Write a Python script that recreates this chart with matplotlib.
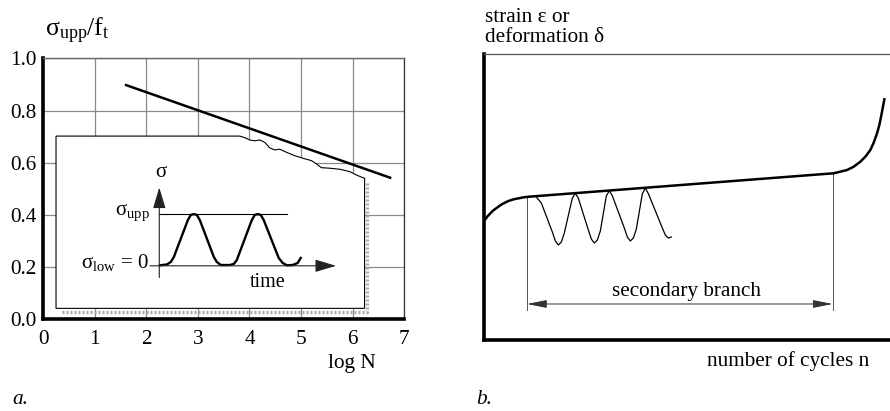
import matplotlib
matplotlib.use('Agg')
import matplotlib.pyplot as plt
from matplotlib.patches import Polygon

plt.rcParams['font.family'] = ['Liberation Serif', 'DejaVu Serif']
plt.rcParams['mathtext.fontset'] = 'custom'
plt.rcParams['mathtext.rm'] = 'Liberation Serif'
plt.rcParams['mathtext.it'] = 'Liberation Serif:italic'
plt.rcParams['mathtext.bf'] = 'Liberation Serif:bold'
plt.rcParams['mathtext.default'] = 'rm'

# ---------------- data: panel a ----------------
x_ticks = [0, 1, 2, 3, 4, 5, 6, 7]
x_tick_labels = ['0', '1', '2', '3', '4', '5', '6', '7']
y_ticks = [0.0, 0.2, 0.4, 0.6, 0.8, 1.0]
y_tick_labels = ['0.0', '0.2', '0.4', '0.6', '0.8', '1.0']

fatigue_logN = [1.583, 6.752]
fatigue_ratio = [0.899, 0.541]

# inset card outline (torn top edge)
inset_x = [0.246, 0.246, 3.812, 3.909, 4.006, 4.103, 4.200, 4.297, 4.393, 4.490,
           4.587, 4.717, 4.878, 5.039, 5.202, 5.310, 5.395, 5.556, 5.750, 5.944,
           6.074, 6.234, 6.234]
inset_y = [0.042, 0.702, 0.702, 0.696, 0.687, 0.684, 0.687, 0.678, 0.657, 0.649,
           0.652, 0.640, 0.627, 0.617, 0.608, 0.594, 0.581, 0.579, 0.575, 0.566,
           0.553, 0.540, 0.042]
shadow_x = [6.279, 6.279, 0.357]
shadow_y = [0.521, 0.027, 0.027]

# load history sketch in the inset
wave_x = [2.262, 2.397, 2.475, 2.533, 2.804, 2.862, 2.921, 2.979, 3.037, 3.308,
          3.366, 3.444, 3.618, 3.696, 3.754, 4.045, 4.103, 4.161, 4.219, 4.277,
          4.568, 4.645, 4.723, 4.839, 4.936, 4.994]
wave_y = [0.207, 0.210, 0.220, 0.239, 0.380, 0.400, 0.403, 0.400, 0.380, 0.239,
          0.220, 0.208, 0.208, 0.212, 0.227, 0.380, 0.400, 0.403, 0.400, 0.380,
          0.235, 0.216, 0.207, 0.208, 0.216, 0.235]
sig_axis_x = [2.25, 2.25]
sig_axis_y = [0.16, 0.505]
time_axis_x = [2.07, 5.68]
time_axis_y = [0.205, 0.205]
upp_line_x = [2.25, 4.72]
upp_line_y = [0.405, 0.405]

# ---------------- data: panel b ----------------
creep_x = [0.25, 0.74, 1.48, 2.22, 3.13, 3.94, 4.75, 5.91, 7.22, 9.68, 10.91,
           82.76, 86.03, 89.33, 90.96, 92.61, 93.84, 95.07, 95.89, 96.72, 97.29,
           97.71, 98.10, 98.52]
creep_y = [42.20, 43.18, 44.30, 45.35, 46.26, 47.13, 47.80, 48.60, 49.20, 49.90,
           50.10, 57.94, 58.29, 59.44, 60.59, 62.34, 64.09, 66.43, 68.99, 72.27,
           75.17, 78.08, 81.01, 84.16]
osc_x = [12.81, 14.04, 16.75, 17.49, 18.23, 18.97, 19.70, 21.67, 22.41, 23.15,
         25.62, 26.35, 27.09, 27.83, 28.57, 30.05, 30.79, 31.53, 34.48, 35.22,
         35.96, 36.70, 37.44, 38.92, 39.66, 40.39, 43.84, 44.58, 45.32, 46.06]
osc_y = [50.0, 47.9, 37.76, 34.62, 33.22, 34.27, 37.41, 49.6, 51.3, 49.6,
         38.46, 35.31, 33.92, 34.97, 38.11, 50.4, 52.2, 50.4, 39.16, 36.01,
         34.62, 35.66, 38.81, 51.2, 53.1, 51.2, 39.16, 36.71, 35.66, 36.01]
branch_start_x = 10.5
branch_end_x = 85.8
branch_line_bottom = 10.5
branch_arrow_y = 12.6

FS = 15.3
FS_IN = 15.0

fig = plt.figure(figsize=(8.9, 4.11), dpi=100)

# ===================== panel a =====================
ax = fig.add_axes([0.0487, 0.2231, 0.4053, 0.635])
ax.set_xlim(0, 7)
ax.set_ylim(0, 1)
ax.set_xticks(x_ticks)
ax.set_xticklabels(x_tick_labels)
ax.set_yticks(y_ticks)
ax.set_yticklabels(y_tick_labels)
ax.tick_params(length=0, labelsize=FS)
ax.tick_params(axis='x', pad=8)
ax.tick_params(axis='y', pad=5)
ax.set_axisbelow(True)
ax.grid(True, color='#8a8a8a', lw=0.9)
ax.spines['left'].set_linewidth(2.6)
ax.spines['bottom'].set_linewidth(2.6)
ax.spines['top'].set_linewidth(1.0)
ax.spines['top'].set_color('#666666')
ax.spines['right'].set_linewidth(0.9)
ax.spines['right'].set_color('#333333')

ax.add_patch(Polygon(list(zip(inset_x, inset_y)), closed=True, facecolor='white',
                     edgecolor='black', lw=0.8, zorder=2))
ax.plot(shadow_x, shadow_y, ls=(0, (0.6, 0.6)), color='#a8a8a8', lw=2.4, zorder=2)

ax.plot(fatigue_logN, fatigue_ratio, color='black', lw=1.8, zorder=4,
        solid_capstyle='butt')

ax.plot(upp_line_x, upp_line_y, color='black', lw=0.8, zorder=3)
ax.plot(wave_x, wave_y, color='black', lw=1.7, zorder=3)
ax.annotate('', xy=(sig_axis_x[1], sig_axis_y[1]), xytext=(sig_axis_x[0], sig_axis_y[0]),
            arrowprops=dict(arrowstyle='-|>,head_length=1.0,head_width=0.3',
                            mutation_scale=13, color='#222222', lw=0.8,
                            shrinkA=0, shrinkB=0), zorder=3)
ax.annotate('', xy=(time_axis_x[1], time_axis_y[1]), xytext=(time_axis_x[0], time_axis_y[0]),
            arrowprops=dict(arrowstyle='-|>,head_length=1.0,head_width=0.3',
                            mutation_scale=13, color='#222222', lw=0.8,
                            shrinkA=0, shrinkB=0), zorder=3)
ax.text(2.275, 0.545, 'σ', fontsize=FS_IN, ha='center', va='baseline', zorder=3)
ax.text(2.07, 0.40, r'$σ_{upp}$', fontsize=FS_IN, ha='right', va='baseline', zorder=3)
ax.text(2.05, 0.195, r'$σ_{low}$ = 0', fontsize=FS_IN, ha='right', va='baseline', zorder=3)
ax.text(4.36, 0.123, 'time', fontsize=14.5, ha='center', va='baseline', zorder=3)

fig.text(45 / 890, 1 - 36 / 411, r'$σ_{upp}/f_t$', fontsize=18.5, ha='left',
         va='baseline')
fig.text(351.5 / 890, 1 - 368 / 411, 'log N', fontsize=FS, ha='center', va='baseline')
fig.text(12 / 890, 1 - 404 / 411, 'a.', fontsize=FS, style='italic', ha='left',
         va='baseline')

# ===================== panel b =====================
bx = fig.add_axes([0.5442, 0.1727, 0.4562, 0.6959])
bx.set_xlim(0, 100)
bx.set_ylim(0, 100)
bx.set_xticks([])
bx.set_yticks([])
bx.spines['left'].set_linewidth(2.6)
bx.spines['bottom'].set_linewidth(2.6)
bx.spines['top'].set_linewidth(0.9)
bx.spines['top'].set_color('#555555')
bx.spines['right'].set_visible(False)

bx.plot(creep_x, creep_y, color='black', lw=1.8, zorder=3)
bx.plot(osc_x, osc_y, color='black', lw=0.9, zorder=3)
bx.plot([branch_start_x, branch_start_x], [branch_line_bottom, 50.0],
        color='#555555', lw=0.7)
bx.plot([branch_end_x, branch_end_x], [branch_line_bottom, 58.3],
        color='#555555', lw=0.7)
bx.annotate('', xy=(branch_end_x, branch_arrow_y), xytext=(branch_start_x, branch_arrow_y),
            arrowprops=dict(arrowstyle='<|-|>,head_length=1.1,head_width=0.22',
                            mutation_scale=11, color='#333333', lw=0.7,
                            shrinkA=0, shrinkB=0))
bx.text(49.9, 15.5, 'secondary branch', fontsize=FS, ha='center', va='baseline')

fig.text(485 / 890, 1 - 21.5 / 411, 'strain ε or', fontsize=FS, ha='left', va='baseline')
fig.text(485 / 890, 1 - 42.5 / 411, 'deformation δ', fontsize=FS, ha='left', va='baseline')
fig.text(787.8 / 890, 1 - 366 / 411, 'number of cycles n', fontsize=FS, ha='center',
         va='baseline')
fig.text(476.7 / 890, 1 - 404 / 411, 'b.', fontsize=FS, style='italic', ha='left',
         va='baseline')

fig.savefig('out.png', dpi=100)
